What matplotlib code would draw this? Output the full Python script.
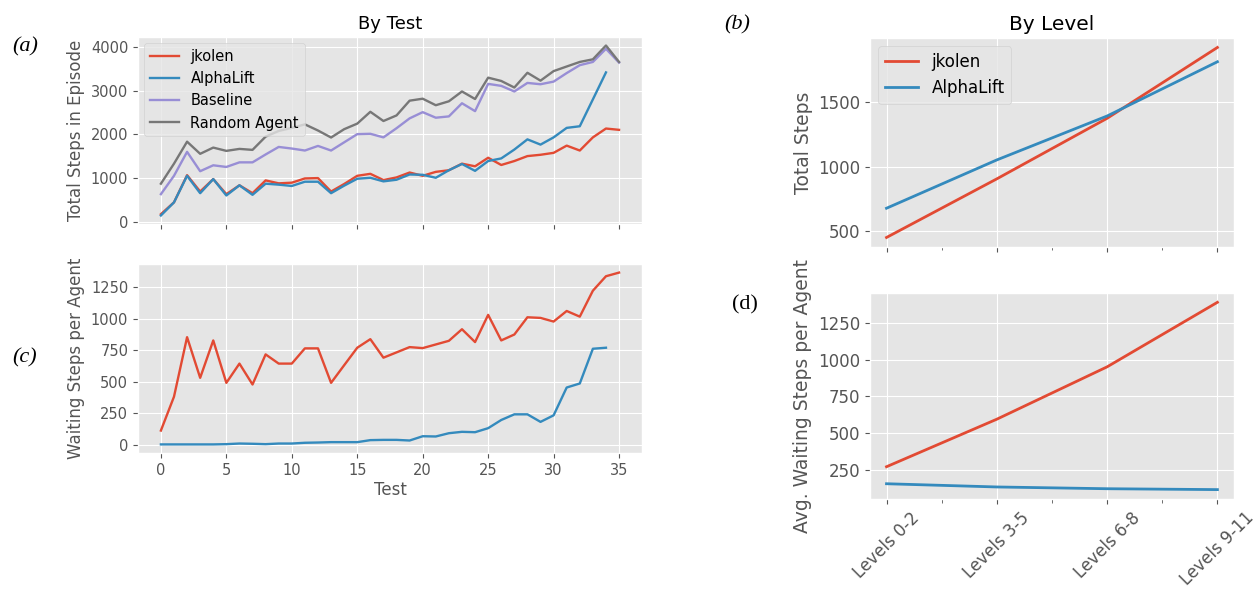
import numpy as np
import matplotlib
matplotlib.use("Agg")
import matplotlib.pyplot as plt

plt.style.use("ggplot")

# ---- data: by test ----
tests = list(range(36))

total_jkolen = [180, 450, 1070, 697, 981, 637, 839, 659, 951, 884, 899, 996, 1004, 697,
                869, 1056, 1101, 959, 1019, 1131, 1056, 1146, 1183, 1333, 1273, 1468,
                1303, 1393, 1506, 1536, 1580, 1745, 1633, 1933, 2135, 2105]
total_alphalift = [150, 450, 1056, 659, 981, 607, 839, 622, 876, 854, 824, 921, 921, 659,
                   831, 989, 1011, 929, 966, 1086, 1079, 1011, 1183, 1326, 1169, 1393,
                   1453, 1655, 1888, 1768, 1933, 2150, 2187, 2800, 3416]
total_baseline = [637, 1056, 1603, 1161, 1296, 1258, 1363, 1363, 1543, 1715, 1678, 1633,
                  1738, 1633, 1820, 2007, 2015, 1933, 2142, 2367, 2509, 2382, 2412, 2712,
                  2532, 3154, 3109, 2981, 3176, 3146, 3206, 3401, 3581, 3655, 3955, 3640]
total_random = [876, 1333, 1835, 1558, 1700, 1625, 1670, 1648, 1950, 2080, 2150, 2230,
                2090, 1930, 2120, 2247, 2517, 2307, 2434, 2771, 2816, 2667, 2757, 2981,
                2809, 3296, 3221, 3071, 3408, 3228, 3446, 3551, 3655, 3715, 4030, 3655]

wait_jkolen = [113, 382, 855, 532, 829, 492, 645, 479, 718, 645, 645, 766, 766, 492, 632,
               771, 839, 692, 734, 776, 768, 797, 826, 918, 816, 1032, 829, 876, 1013,
               1008, 979, 1063, 1018, 1224, 1339, 1368]
wait_alphalift = [3, 3, 3, 3, 3, 5, 10, 8, 5, 10, 10, 16, 18, 21, 21, 21, 37, 39, 39, 34,
                  68, 66, 92, 103, 100, 132, 197, 242, 242, 182, 234, 455, 487, 763, 771]

# ---- data: by level ----
levels = ["Levels 0-2", "Levels 3-5", "Levels 6-8", "Levels 9-11"]
level_total_jkolen = [451, 906, 1376, 1926]
level_total_alphalift = [678, 1053, 1394, 1815]
level_wait_jkolen = [270, 594, 951, 1391]
level_wait_alphalift = [154, 132, 120, 114]

fig = plt.figure(figsize=(12.59, 5.97), dpi=100)
fig.patch.set_facecolor("white")

ax_a = fig.add_axes([0.1096, 0.6248, 0.4003, 0.3132])
ax_c = fig.add_axes([0.1096, 0.2412, 0.4003, 0.3166], sharex=ax_a)
ax_b = fig.add_axes([0.691, 0.5863, 0.2891, 0.3501])
ax_d = fig.add_axes([0.691, 0.1642, 0.2891, 0.3451], sharex=ax_b)

lw = 1.7
# left: by test
ax_a.plot(tests, total_jkolen, label="jkolen", lw=lw)
ax_a.plot(tests[:len(total_alphalift)], total_alphalift, label="AlphaLift", lw=lw)
ax_a.plot(tests, total_baseline, label="Baseline", lw=lw)
ax_a.plot(tests, total_random, label="Random Agent", lw=lw)
ax_a.set_title("By Test", fontsize=13)
ax_a.set_ylabel("Total Steps in Episode", fontsize=12)
ax_a.set_yticks([0, 1000, 2000, 3000, 4000])
ax_a.tick_params(labelsize=10.5)
ax_a.tick_params(axis="x", labelbottom=False)
ax_a.legend(loc="upper left", fontsize=10.5, borderaxespad=0.4)

ax_c.plot(tests, wait_jkolen, lw=lw)
ax_c.plot(tests[:len(wait_alphalift)], wait_alphalift, lw=lw)
ax_c.set_ylabel("Waiting Steps per Agent", fontsize=12)
ax_c.set_xlabel("Test", fontsize=12, labelpad=2)
ax_c.set_yticks([0, 250, 500, 750, 1000, 1250])
ax_c.set_xticks(range(0, 36, 5))
ax_c.tick_params(labelsize=10.5)

# right: by level
x = np.arange(len(levels))
ax_b.plot(x, level_total_jkolen, label="jkolen", lw=2)
ax_b.plot(x, level_total_alphalift, label="AlphaLift", lw=2)
ax_b.set_title("By Level", fontsize=14.5)
ax_b.set_ylabel("Total Steps", fontsize=13.5)
ax_b.set_yticks([500, 1000, 1500])
ax_b.tick_params(labelsize=12)
ax_b.tick_params(axis="x", labelbottom=False)
ax_b.legend(loc="upper left", fontsize=12)

ax_d.plot(x, level_wait_jkolen, lw=2)
ax_d.plot(x, level_wait_alphalift, lw=2)
ax_d.set_ylabel("Avg. Waiting Steps per Agent", fontsize=13.5)
ax_d.set_yticks([250, 500, 750, 1000, 1250])
ax_d.set_xticks(x)
ax_d.set_xticks([0.5, 1.5, 2.5], minor=True)
ax_d.set_xticklabels(levels, rotation=45)
ax_d.tick_params(labelsize=12)
ax_d.tick_params(axis="x", which="minor", length=3, color="#555555")
ax_d.grid(False, which="minor")

# panel letters
fig.text(25 / 1259, 1 - 47 / 597, "(a)", fontsize=16, family="Liberation Serif",
         style="italic", ha="center", va="center")
fig.text(25 / 1259, 1 - 358 / 597, "(c)", fontsize=16, family="Liberation Serif",
         style="italic", ha="center", va="center")
fig.text(737 / 1259, 1 - 25 / 597, "(b)", fontsize=16, family="Liberation Serif",
         style="italic", ha="center", va="center")
fig.text(745 / 1259, 1 - 305 / 597, "(d)", fontsize=16, family="Liberation Serif",
         ha="center", va="center")

fig.savefig("out.png", dpi=100, facecolor="white")
